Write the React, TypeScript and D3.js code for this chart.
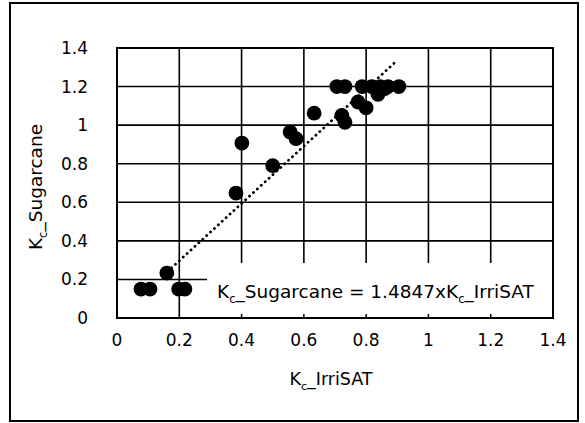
import React from "react";
import * as d3 from "d3";

const xTicks = [0, 0.2, 0.4, 0.6, 0.8, 1, 1.2, 1.4];
const yTicks = [0, 0.2, 0.4, 0.6, 0.8, 1, 1.2, 1.4];
const kcIrriSAT = [0.077, 0.106, 0.16, 0.198, 0.218, 0.382, 0.401, 0.5, 0.556, 0.575, 0.633, 0.706, 0.732, 0.722, 0.732, 0.774, 0.8, 0.787, 0.818, 0.845, 0.87, 0.905, 0.838, 0.86];
const kcSugarcane = [0.15, 0.15, 0.233, 0.15, 0.15, 0.648, 0.907, 0.79, 0.964, 0.93, 1.062, 1.2, 1.2, 1.05, 1.015, 1.12, 1.09, 1.2, 1.2, 1.2, 1.2, 1.2, 1.16, 1.19];
const slope = 1.4847;
const trendRange = [0.175, 0.893];

export default function App() {
  const left = 117, right = 553, top = 48, bottom = 318;
  const x = d3.scaleLinear().domain([0, 1.4]).range([left, right]);
  const y = d3.scaleLinear().domain([0, 1.4]).range([bottom, top]);
  const font = "'DejaVu Sans', sans-serif";
  const boxLeft = 207, boxTop = 263;
  const line = d3.line<number>().x(d => x(d)).y(d => y(slope * d));
  const fmt = (v: number) => String(+v.toFixed(1));
  return (
    <svg width={585} height={423} style={{ position: "absolute", left: 0, top: 0 }} fontFamily={font}>
      <rect x={0} y={0} width={585} height={423} fill="#fff" />
      <rect x={10} y={3} width={568} height={418} fill="none" stroke="#000" strokeWidth={2} />
      {/* grid */}
      {xTicks.map((t, i) => (
        <line key={"gx" + i} x1={x(t)} x2={x(t)} y1={top} y2={bottom} stroke="#000" strokeWidth={1.6} />
      ))}
      {yTicks.map((t, i) => (
        <line key={"gy" + i} x1={left} x2={right} y1={y(t)} y2={y(t)} stroke="#000" strokeWidth={1.6} />
      ))}
      {/* trendline */}
      <path d={line(trendRange) || ""} fill="none" stroke="#000" strokeWidth={2.8} strokeDasharray="0.1 5.2" strokeLinecap="round" />
      {/* points */}
      {kcIrriSAT.map((v, i) => (
        <circle key={"p" + i} cx={x(v)} cy={y(kcSugarcane[i])} r={7.4} fill="#000" />
      ))}
      {/* label box */}
      <rect x={boxLeft} y={boxTop} width={right - boxLeft} height={bottom - boxTop} fill="#fff" />
      {xTicks.filter(t => x(t) > boxLeft).map((t, i) => (
        <line key={"tk" + i} x1={x(t)} x2={x(t)} y1={bottom - 4} y2={bottom} stroke="#000" strokeWidth={1.5} />
      ))}
      <rect x={left} y={top} width={right - left} height={bottom - top} fill="none" stroke="#000" strokeWidth={2} />
      <text x={217} y={298} fontSize={18.5}>
        K<tspan fontSize={11.5} dy={5}>c</tspan><tspan dy={-5}>_Sugarcane = 1.4847xK</tspan><tspan fontSize={11.5} dy={5}>c</tspan><tspan dy={-5}>_IrriSAT</tspan>
      </text>
      {/* tick labels */}
      {yTicks.map((t, i) => (
        <text key={"yl" + i} x={88} y={y(t) + 6} fontSize={17} textAnchor="end">{fmt(t)}</text>
      ))}
      {xTicks.map((t, i) => (
        <text key={"xl" + i} x={x(t)} y={346} fontSize={17} textAnchor="middle">{fmt(t)}</text>
      ))}
      {/* axis titles */}
      <text x={331} y={385} fontSize={17.5} textAnchor="middle">
        K<tspan fontSize={11} dy={5}>c</tspan><tspan dy={-5}>_IrriSAT</tspan>
      </text>
      <text transform="translate(42,187) rotate(-90)" fontSize={18.5} textAnchor="middle">
        K<tspan fontSize={11.5} dy={5}>c</tspan><tspan dy={-5}>_Sugarcane</tspan>
      </text>
    </svg>
  );
}
